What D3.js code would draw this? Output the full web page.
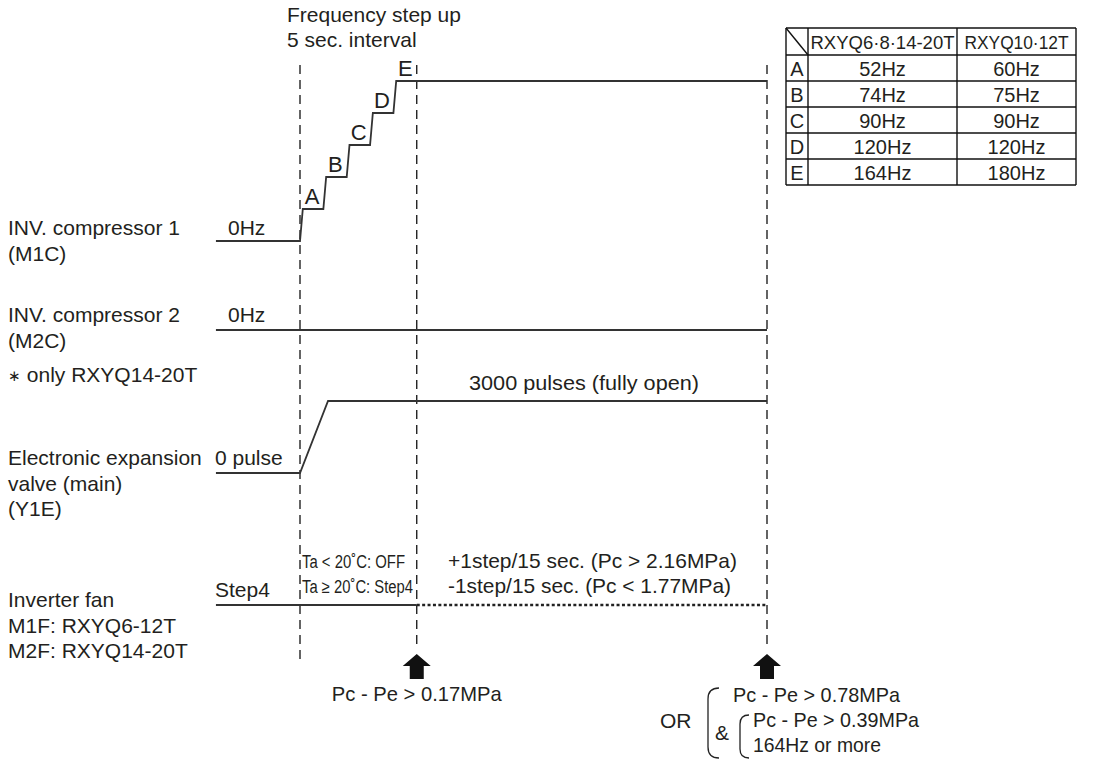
<!DOCTYPE html>
<html><head><meta charset="utf-8">
<script src="https://cdn.jsdelivr.net/npm/d3@7"></script>
<style>body{margin:0;background:#fff}svg{display:block}</style>
</head><body><svg id="c" width="1104" height="762"></svg>
<script>
// ---------- data ----------
const rowLabels = [
  ["INV. compressor 1", "(M1C)"],
  ["INV. compressor 2", "(M2C)"],
  ["Electronic expansion", "valve (main)", "(Y1E)"],
  ["Inverter fan", "M1F: RXYQ6-12T", "M2F: RXYQ14-20T"]
];
const compressor2Note = ["\u2217", " only RXYQ14-20T"];
const startStates = ["0Hz", "0Hz", "0 pulse", "Step4"];
const phaseTimes = [-18, 0, 25, 100];          // seconds: idle start, start, step-up end, end
const stepLetters = ["A", "B", "C", "D", "E"];
const stepTimes = [0, 5, 10, 15, 20];          // 5 sec. interval
const stepLevels = [1, 2, 3, 4, 5];
const riseTime = 0.6;
const eevTimes = [-18, 0, 6, 100];
const eevPulses = [0, 0, 3000, 3000];
const eevLabel = "3000 pulses (fully open)";
const tableHeaders = ["RXYQ6\u00b78\u00b714-20T", "RXYQ10\u00b712T"];
const freqModelA = ["52Hz", "74Hz", "90Hz", "120Hz", "164Hz"];
const freqModelB = ["60Hz", "75Hz", "90Hz", "120Hz", "180Hz"];
const titleLines = ["Frequency step up", "5 sec. interval"];
const fanNotesStart = ["Ta < 20\u02daC: OFF", "Ta \u2265 20\u02daC: Step4"];
const fanNotesRun = ["+1step/15 sec. (Pc > 2.16MPa)", "-1step/15 sec. (Pc < 1.77MPa)"];
const conditionStart = "Pc - Pe > 0.17MPa";
const conditionEnd = ["Pc - Pe > 0.78MPa", "Pc - Pe > 0.39MPa", "164Hz or more"];

// ---------- setup ----------
const svg = d3.select("#c");
const FONT = "'Liberation Sans', Arial, Helvetica, sans-serif";
const TXT = "#231f20", LN = "#333";
const x = d3.scaleLinear().domain([0, 100]).range([300, 767]);
const freqY = d3.scaleLinear().domain([0, 5]).range([241, 81]);
const eevY = d3.scaleLinear().domain([0, 3000]).range([473, 401]);
const comp2Y = 330, fanY = 605;

function txt(s, px, py, opts = {}) {
  const t = svg.append("text").attr("x", px).attr("y", py).text(s)
    .attr("font-family", FONT).attr("font-size", opts.size || 21)
    .attr("fill", TXT).attr("text-anchor", opts.anchor || "start");
  if (opts.len) t.attr("textLength", opts.len).attr("lengthAdjust", "spacingAndGlyphs");
  return t;
}

// ---------- dashed time markers ----------
const markerEnds = [665, 650, 650];
[0, 25, 100].forEach((t, i) => {
  svg.append("line").attr("x1", x(t)).attr("x2", x(t)).attr("y1", 65).attr("y2", markerEnds[i])
    .attr("stroke", "#111").attr("stroke-width", 1.3).attr("stroke-dasharray", "9,6");
});

// ---------- row labels ----------
const labelBase = [235, 322, 465, 607];
rowLabels.forEach((lines, i) => {
  lines.forEach((l, j) => txt(l, 8, labelBase[i] + j * 25.5));
});
const note = txt("", 8, 382);
note.append("tspan").attr("font-size", 15).attr("dy", -1).text(compressor2Note[0]);
note.append("tspan").attr("dy", 1).text(compressor2Note[1]);

// start states
const stateX = [228, 228, 215, 215];
const stateY = [235, 322, 465, 597];
startStates.forEach((s, i) => txt(s, stateX[i], stateY[i]));

// title
titleLines.forEach((l, i) => txt(l, 287, 22 + i * 25));

const line = d3.line().x(d => x(d[0])).y(d => d[1]);

// ---------- compressor 1 staircase ----------
const c1 = [[phaseTimes[0], freqY(0)], [stepTimes[0], freqY(0)]];
stepTimes.forEach((t, i) => {
  c1.push([t + riseTime, freqY(stepLevels[i])]);
  c1.push([i < stepTimes.length - 1 ? stepTimes[i + 1] : phaseTimes[3], freqY(stepLevels[i])]);
});
svg.append("path").attr("d", line(c1)).attr("fill", "none").attr("stroke", LN).attr("stroke-width", 1.8);
stepLetters.forEach((s, i) => txt(s, x(stepTimes[i]) + 12, freqY(stepLevels[i]) - 5, {anchor: "middle", size: 22}));

// ---------- compressor 2 ----------
svg.append("path").attr("d", line([[phaseTimes[0], comp2Y], [phaseTimes[3], comp2Y]]))
  .attr("fill", "none").attr("stroke", LN).attr("stroke-width", 1.8);

// ---------- EEV ----------
svg.append("path").attr("d", line(eevTimes.map((t, i) => [t, eevY(eevPulses[i])])))
  .attr("fill", "none").attr("stroke", LN).attr("stroke-width", 1.8);
txt(eevLabel, 584, 390, {anchor: "middle", len: 230});

// ---------- fan ----------
svg.append("path").attr("d", line([[phaseTimes[0], fanY], [phaseTimes[2], fanY]]))
  .attr("fill", "none").attr("stroke", LN).attr("stroke-width", 1.8);
svg.append("path").attr("d", line([[phaseTimes[2], fanY], [phaseTimes[3], fanY]]))
  .attr("fill", "none").attr("stroke", "#222").attr("stroke-width", 2.6).attr("stroke-dasharray", "3,2.4");
fanNotesStart.forEach((s, i) => txt(s, 302, 568 + i * 25, {size: 18, len: i ? 111 : 103}));
fanNotesRun.forEach((s, i) => txt(s, 448, 568 + i * 25, {len: i ? 283 : 289}));

// ---------- arrows ----------
[25, 100].forEach(t => {
  const cx = x(t);
  svg.append("path")
    .attr("d", `M${cx},654 L${cx + 14},666 L${cx + 7},666 L${cx + 7},679 L${cx - 7},679 L${cx - 7},666 L${cx - 14},666 Z`)
    .attr("fill", "#111");
});
txt(conditionStart, x(25), 701, {anchor: "middle", len: 170});

// ---------- end condition with brackets ----------
txt("OR", 660, 728);
txt("&", 715, 740);
txt(conditionEnd[0], 733, 702, {len: 167});
txt(conditionEnd[1], 753, 727, {len: 166});
txt(conditionEnd[2], 753, 752, {len: 128});
svg.append("path").attr("d", "M719,688 Q708,688 708,699 L708,747 Q708,758 719,758")
  .attr("fill", "none").attr("stroke", "#222").attr("stroke-width", 1.3);
svg.append("path").attr("d", "M749,715 Q740,715 740,724 L740,749 Q740,758 749,758")
  .attr("fill", "none").attr("stroke", "#222").attr("stroke-width", 1.3);

// ---------- table ----------
const colEdges = [786, 808, 957, 1076];
const rowY = d3.scaleBand().domain(stepLetters).range([55, 185]);
const tTop = 28;
const tg = svg.append("g");
const tl = (x1, y1, x2, y2) => tg.append("line").attr("x1", x1).attr("y1", y1).attr("x2", x2).attr("y2", y2)
  .attr("stroke", "#111").attr("stroke-width", 1.4);
tl(colEdges[0], tTop, colEdges[3], tTop);
tl(colEdges[0], 55, colEdges[3], 55);
stepLetters.forEach(s => tl(colEdges[0], rowY(s) + rowY.bandwidth(), colEdges[3], rowY(s) + rowY.bandwidth()));
colEdges.forEach(cx => tl(cx, tTop, cx, 185));
tl(colEdges[0], tTop, colEdges[1], 55);
txt(tableHeaders[0], (colEdges[1] + colEdges[2]) / 2, 49, {size: 19, anchor: "middle", len: 144});
txt(tableHeaders[1], (colEdges[2] + colEdges[3]) / 2, 49, {size: 19, anchor: "middle", len: 104});
stepLetters.forEach((s, i) => {
  const by = rowY(s) + rowY.bandwidth() - 5;
  txt(s, (colEdges[0] + colEdges[1]) / 2, by, {size: 20, anchor: "middle"});
  txt(freqModelA[i], (colEdges[1] + colEdges[2]) / 2, by, {size: 20, anchor: "middle"});
  txt(freqModelB[i], (colEdges[2] + colEdges[3]) / 2, by, {size: 20, anchor: "middle"});
});
</script></body></html>
